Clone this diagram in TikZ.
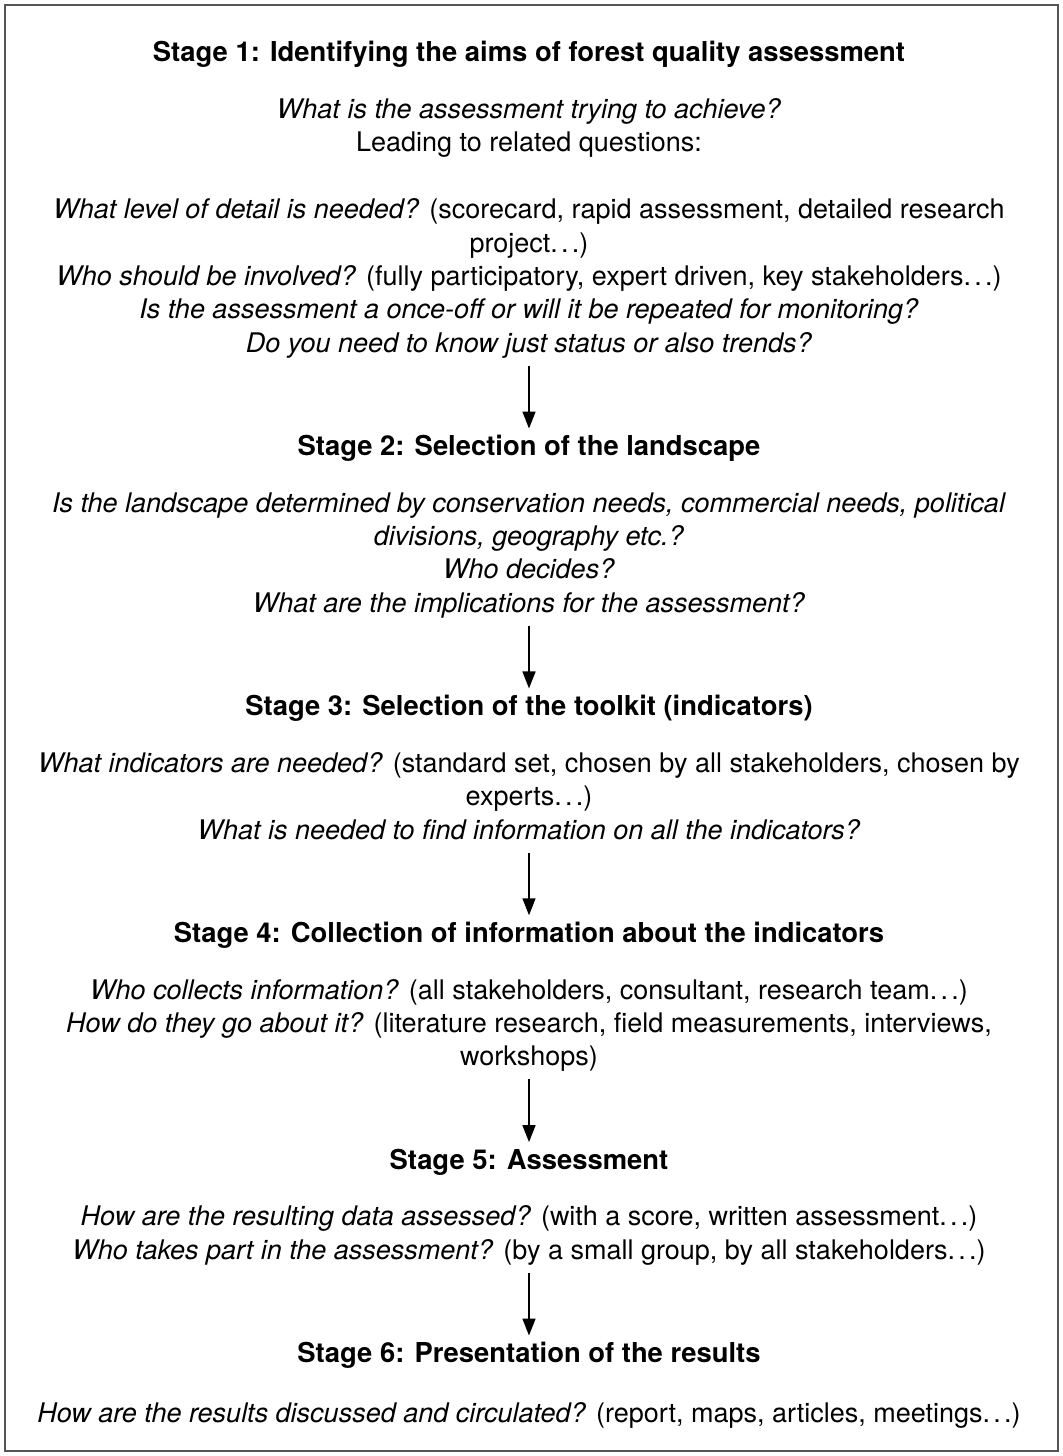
\documentclass[tikz,border=0pt]{standalone}
\usepackage{fontspec}
\setmainfont{TeX Gyre Heros}
\usepackage{xcolor}
\usetikzlibrary{positioning,arrows.meta}
\definecolor{frame}{RGB}{85,85,85}
\newcommand{\etcdots}{.\kern.12em.\kern.12em.}

\tikzset{
  stagetitle/.style={font=\fontsize{13.7}{16.7}\selectfont\bfseries, inner sep=0pt, execute at begin node=\strut},
  stagetext/.style={font=\fontsize{13.5}{16.7}\selectfont, align=center, inner sep=0pt, execute at begin node=\strut, execute at end node=\strut},
  flow/.style={-{Triangle[width=6.5pt,length=8.5pt]}, line width=0.8pt, shorten <=1.6pt, shorten >=1.6pt}
}

\begin{document}
\begin{tikzpicture}[x=0.5pt, y=-0.5pt, node distance=13pt]
\useasboundingbox (0,0) rectangle (1062,1456);
\draw[frame, line width=1pt] (5,5) rectangle (1058,1451);

\node[stagetitle] (ttl1) at (529,55) {Stage 1: Identifying the aims of forest quality assessment};
\node[stagetext, below=of ttl1] (txt1) {\textit{What is the assessment trying to achieve?}\\
Leading to related questions:\\[16.7pt]
\textit{What level of detail is needed?} (scorecard, rapid assessment, detailed research\\
project\etcdots)\\
\textit{Who should be involved?} (fully participatory, expert driven, key stakeholders\etcdots)\\
\textit{Is the assessment a once-off or will it be repeated for monitoring?}\\
\textit{Do you need to know just status or also trends?}};

\node[stagetitle, below=34.5pt of txt1] (ttl2) {Stage 2: Selection of the landscape};
\node[stagetext, below=of ttl2] (txt2) {\textit{Is the landscape determined by conservation needs, commercial needs, political}\\
\textit{divisions, geography etc.?}\\
\textit{Who decides?}\\
\textit{What are the implications for the assessment?}};

\node[stagetitle, below=34.5pt of txt2] (ttl3) {Stage 3: Selection of the toolkit (indicators)};
\node[stagetext, below=of ttl3] (txt3) {\textit{What indicators are needed?} (standard set, chosen by all stakeholders, chosen by\\
experts\etcdots)\\
\textit{What is needed to find information on all the indicators?}};

\node[stagetitle, below=34.5pt of txt3] (ttl4) {Stage 4: Collection of information about the indicators};
\node[stagetext, below=of ttl4] (txt4) {\textit{Who collects information?} (all stakeholders, consultant, research team\etcdots)\\
\textit{How do they go about it?} (literature research, field measurements, interviews,\\
workshops)};

\node[stagetitle, below=34.5pt of txt4] (ttl5) {Stage 5: Assessment};
\node[stagetext, below=of ttl5] (txt5) {\textit{How are the resulting data assessed?} (with a score, written assessment\etcdots)\\
\textit{Who takes part in the assessment?} (by a small group, by all stakeholders\etcdots)};

\node[stagetitle, below=34.5pt of txt5] (ttl6) {Stage 6: Presentation of the results};
\node[stagetext, below=of ttl6] (txt6) {\textit{How are the results discussed and circulated?} (report, maps, articles, meetings\etcdots)};

\foreach \a/\b in {txt1/ttl2, txt2/ttl3, txt3/ttl4, txt4/ttl5, txt5/ttl6}
  \draw[flow] (\a.south) -- (\b.north);
\end{tikzpicture}
\end{document}
